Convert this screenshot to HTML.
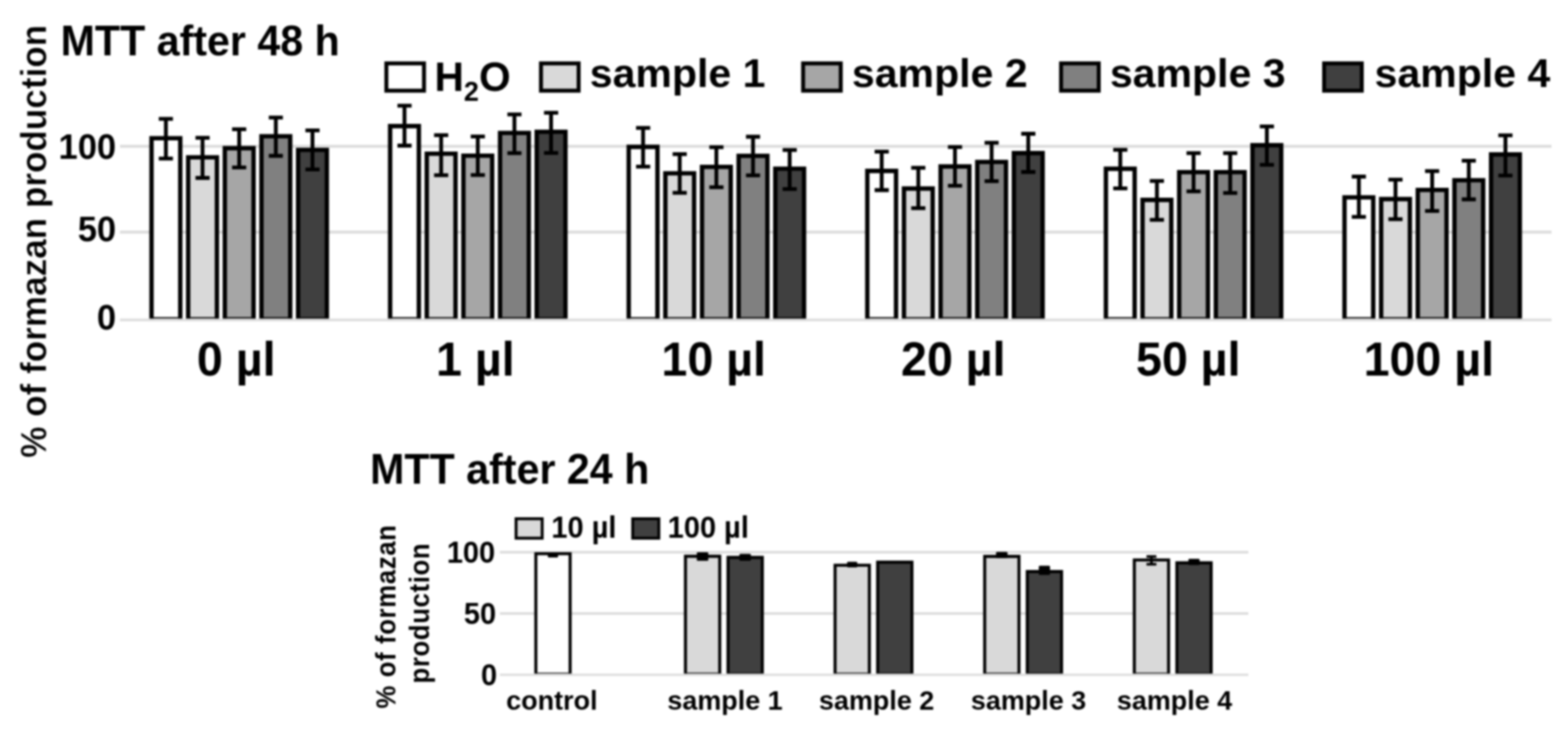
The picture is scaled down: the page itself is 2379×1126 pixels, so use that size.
<!DOCTYPE html>
<html lang="en"><head><meta charset="utf-8"><title>MTT assay - formazan production</title>
<style>html,body{margin:0;padding:0;background:#fff;}body{width:2379px;height:1126px;overflow:hidden;}svg{display:block;}text{font-family:"Liberation Sans", sans-serif;font-weight:bold;fill:#000;}</style>
</head><body>
<svg width="2379" height="1126" viewBox="0 0 2379 1126">
<defs><filter id="soft" color-interpolation-filters="sRGB" x="0" y="0" width="2379" height="1126" filterUnits="userSpaceOnUse"><feGaussianBlur stdDeviation="1.4"/></filter></defs>
<rect width="2379" height="1126" fill="#fff"/>
<g filter="url(#soft)">
<rect width="2379" height="1126" fill="#fff"/>
<line x1="182" y1="222" x2="2354" y2="222" stroke="#dcdcdc" stroke-width="4.5"/>
<line x1="182" y1="352.2" x2="2354" y2="352.2" stroke="#dcdcdc" stroke-width="4.5"/>
<rect x="229.9" y="209.8" width="43.6" height="275.6" fill="#ffffff"/>
<path d="M229.9 485.4V209.8H273.5V485.4" fill="none" stroke="#000" stroke-width="6.6"/>
<path d="M229.9 482.3H273.5" fill="none" stroke="#000" stroke-width="2.3"/>
<rect x="285.5" y="238.8" width="43.6" height="246.6" fill="#d9d9d9"/>
<path d="M285.5 485.4V238.8H329.1V485.4" fill="none" stroke="#000" stroke-width="6.6"/>
<path d="M285.5 482.3H329.1" fill="none" stroke="#000" stroke-width="2.3"/>
<rect x="341.1" y="224.9" width="43.6" height="260.5" fill="#a6a6a6"/>
<path d="M341.1 485.4V224.9H384.7V485.4" fill="none" stroke="#000" stroke-width="6.6"/>
<path d="M341.1 482.3H384.7" fill="none" stroke="#000" stroke-width="2.3"/>
<rect x="396.7" y="206.7" width="43.6" height="278.7" fill="#808080"/>
<path d="M396.7 485.4V206.7H440.3V485.4" fill="none" stroke="#000" stroke-width="6.6"/>
<path d="M396.7 482.3H440.3" fill="none" stroke="#000" stroke-width="2.3"/>
<rect x="452.3" y="227.5" width="43.6" height="257.9" fill="#404040"/>
<path d="M452.3 485.4V227.5H495.9V485.4" fill="none" stroke="#000" stroke-width="6.6"/>
<path d="M452.3 482.3H495.9" fill="none" stroke="#000" stroke-width="2.3"/>
<rect x="591.9" y="191.4" width="43.6" height="294.0" fill="#ffffff"/>
<path d="M591.9 485.4V191.4H635.5V485.4" fill="none" stroke="#000" stroke-width="6.6"/>
<path d="M591.9 482.3H635.5" fill="none" stroke="#000" stroke-width="2.3"/>
<rect x="647.5" y="233.3" width="43.6" height="252.1" fill="#d9d9d9"/>
<path d="M647.5 485.4V233.3H691.1V485.4" fill="none" stroke="#000" stroke-width="6.6"/>
<path d="M647.5 482.3H691.1" fill="none" stroke="#000" stroke-width="2.3"/>
<rect x="703.1" y="236.3" width="43.6" height="249.1" fill="#a6a6a6"/>
<path d="M703.1 485.4V236.3H746.7V485.4" fill="none" stroke="#000" stroke-width="6.6"/>
<path d="M703.1 482.3H746.7" fill="none" stroke="#000" stroke-width="2.3"/>
<rect x="758.7" y="201.7" width="43.6" height="283.7" fill="#808080"/>
<path d="M758.7 485.4V201.7H802.3V485.4" fill="none" stroke="#000" stroke-width="6.6"/>
<path d="M758.7 482.3H802.3" fill="none" stroke="#000" stroke-width="2.3"/>
<rect x="814.3" y="200.0" width="43.6" height="285.4" fill="#404040"/>
<path d="M814.3 485.4V200.0H857.9V485.4" fill="none" stroke="#000" stroke-width="6.6"/>
<path d="M814.3 482.3H857.9" fill="none" stroke="#000" stroke-width="2.3"/>
<rect x="953.9" y="222.9" width="43.6" height="262.5" fill="#ffffff"/>
<path d="M953.9 485.4V222.9H997.5V485.4" fill="none" stroke="#000" stroke-width="6.6"/>
<path d="M953.9 482.3H997.5" fill="none" stroke="#000" stroke-width="2.3"/>
<rect x="1009.5" y="263.0" width="43.6" height="222.4" fill="#d9d9d9"/>
<path d="M1009.5 485.4V263.0H1053.1V485.4" fill="none" stroke="#000" stroke-width="6.6"/>
<path d="M1009.5 482.3H1053.1" fill="none" stroke="#000" stroke-width="2.3"/>
<rect x="1065.1" y="253.2" width="43.6" height="232.2" fill="#a6a6a6"/>
<path d="M1065.1 485.4V253.2H1108.7V485.4" fill="none" stroke="#000" stroke-width="6.6"/>
<path d="M1065.1 482.3H1108.7" fill="none" stroke="#000" stroke-width="2.3"/>
<rect x="1120.7" y="236.5" width="43.6" height="248.9" fill="#808080"/>
<path d="M1120.7 485.4V236.5H1164.3V485.4" fill="none" stroke="#000" stroke-width="6.6"/>
<path d="M1120.7 482.3H1164.3" fill="none" stroke="#000" stroke-width="2.3"/>
<rect x="1176.3" y="256.0" width="43.6" height="229.4" fill="#404040"/>
<path d="M1176.3 485.4V256.0H1219.9V485.4" fill="none" stroke="#000" stroke-width="6.6"/>
<path d="M1176.3 482.3H1219.9" fill="none" stroke="#000" stroke-width="2.3"/>
<rect x="1315.9" y="259.4" width="43.6" height="226.0" fill="#ffffff"/>
<path d="M1315.9 485.4V259.4H1359.5V485.4" fill="none" stroke="#000" stroke-width="6.6"/>
<path d="M1315.9 482.3H1359.5" fill="none" stroke="#000" stroke-width="2.3"/>
<rect x="1371.5" y="286.1" width="43.6" height="199.3" fill="#d9d9d9"/>
<path d="M1371.5 485.4V286.1H1415.1V485.4" fill="none" stroke="#000" stroke-width="6.6"/>
<path d="M1371.5 482.3H1415.1" fill="none" stroke="#000" stroke-width="2.3"/>
<rect x="1427.1" y="252.6" width="43.6" height="232.8" fill="#a6a6a6"/>
<path d="M1427.1 485.4V252.6H1470.7V485.4" fill="none" stroke="#000" stroke-width="6.6"/>
<path d="M1427.1 482.3H1470.7" fill="none" stroke="#000" stroke-width="2.3"/>
<rect x="1482.7" y="245.8" width="43.6" height="239.6" fill="#808080"/>
<path d="M1482.7 485.4V245.8H1526.3V485.4" fill="none" stroke="#000" stroke-width="6.6"/>
<path d="M1482.7 482.3H1526.3" fill="none" stroke="#000" stroke-width="2.3"/>
<rect x="1538.3" y="232.4" width="43.6" height="253.0" fill="#404040"/>
<path d="M1538.3 485.4V232.4H1581.9V485.4" fill="none" stroke="#000" stroke-width="6.6"/>
<path d="M1538.3 482.3H1581.9" fill="none" stroke="#000" stroke-width="2.3"/>
<rect x="1677.9" y="256.1" width="43.6" height="229.3" fill="#ffffff"/>
<path d="M1677.9 485.4V256.1H1721.5V485.4" fill="none" stroke="#000" stroke-width="6.6"/>
<path d="M1677.9 482.3H1721.5" fill="none" stroke="#000" stroke-width="2.3"/>
<rect x="1733.5" y="303.4" width="43.6" height="182.0" fill="#d9d9d9"/>
<path d="M1733.5 485.4V303.4H1777.1V485.4" fill="none" stroke="#000" stroke-width="6.6"/>
<path d="M1733.5 482.3H1777.1" fill="none" stroke="#000" stroke-width="2.3"/>
<rect x="1789.1" y="261.2" width="43.6" height="224.2" fill="#a6a6a6"/>
<path d="M1789.1 485.4V261.2H1832.7V485.4" fill="none" stroke="#000" stroke-width="6.6"/>
<path d="M1789.1 482.3H1832.7" fill="none" stroke="#000" stroke-width="2.3"/>
<rect x="1844.7" y="261.2" width="43.6" height="224.2" fill="#808080"/>
<path d="M1844.7 485.4V261.2H1888.3V485.4" fill="none" stroke="#000" stroke-width="6.6"/>
<path d="M1844.7 482.3H1888.3" fill="none" stroke="#000" stroke-width="2.3"/>
<rect x="1900.3" y="220.4" width="43.6" height="265.0" fill="#404040"/>
<path d="M1900.3 485.4V220.4H1943.9V485.4" fill="none" stroke="#000" stroke-width="6.6"/>
<path d="M1900.3 482.3H1943.9" fill="none" stroke="#000" stroke-width="2.3"/>
<rect x="2039.9" y="299.5" width="43.6" height="185.9" fill="#ffffff"/>
<path d="M2039.9 485.4V299.5H2083.5V485.4" fill="none" stroke="#000" stroke-width="6.6"/>
<path d="M2039.9 482.3H2083.5" fill="none" stroke="#000" stroke-width="2.3"/>
<rect x="2095.5" y="302.1" width="43.6" height="183.3" fill="#d9d9d9"/>
<path d="M2095.5 485.4V302.1H2139.1V485.4" fill="none" stroke="#000" stroke-width="6.6"/>
<path d="M2095.5 482.3H2139.1" fill="none" stroke="#000" stroke-width="2.3"/>
<rect x="2151.1" y="288.2" width="43.6" height="197.2" fill="#a6a6a6"/>
<path d="M2151.1 485.4V288.2H2194.7V485.4" fill="none" stroke="#000" stroke-width="6.6"/>
<path d="M2151.1 482.3H2194.7" fill="none" stroke="#000" stroke-width="2.3"/>
<rect x="2206.7" y="273.5" width="43.6" height="211.9" fill="#808080"/>
<path d="M2206.7 485.4V273.5H2250.3V485.4" fill="none" stroke="#000" stroke-width="6.6"/>
<path d="M2206.7 482.3H2250.3" fill="none" stroke="#000" stroke-width="2.3"/>
<rect x="2262.3" y="234.4" width="43.6" height="251.0" fill="#404040"/>
<path d="M2262.3 485.4V234.4H2305.9V485.4" fill="none" stroke="#000" stroke-width="6.6"/>
<path d="M2262.3 482.3H2305.9" fill="none" stroke="#000" stroke-width="2.3"/>
<line x1="182" y1="485.4" x2="2354" y2="485.4" stroke="#dcdcdc" stroke-width="4"/>
<path d="M251.7 180.4V240.7M240.9 180.4H262.4M240.9 240.7H262.4" fill="none" stroke="#000" stroke-width="5.8"/>
<path d="M307.3 209.2V270.0M296.6 209.2H318.1M296.6 270.0H318.1" fill="none" stroke="#000" stroke-width="5.8"/>
<path d="M362.9 196.2V254.2M352.1 196.2H373.6M352.1 254.2H373.6" fill="none" stroke="#000" stroke-width="5.8"/>
<path d="M418.5 178.3V236.5M407.8 178.3H429.2M407.8 236.5H429.2" fill="none" stroke="#000" stroke-width="5.8"/>
<path d="M474.1 197.9V257.1M463.4 197.9H484.9M463.4 257.1H484.9" fill="none" stroke="#000" stroke-width="5.8"/>
<path d="M613.7 160.4V221.0M603.0 160.4H624.5M603.0 221.0H624.5" fill="none" stroke="#000" stroke-width="5.8"/>
<path d="M669.3 205.2V265.8M658.6 205.2H680.1M658.6 265.8H680.1" fill="none" stroke="#000" stroke-width="5.8"/>
<path d="M724.9 207.1V265.7M714.2 207.1H735.7M714.2 265.7H735.7" fill="none" stroke="#000" stroke-width="5.8"/>
<path d="M780.5 173.7V232.3M769.8 173.7H791.2M769.8 232.3H791.2" fill="none" stroke="#000" stroke-width="5.8"/>
<path d="M836.1 171.1V232.1M825.4 171.1H846.9M825.4 232.1H846.9" fill="none" stroke="#000" stroke-width="5.8"/>
<path d="M975.7 194.2V252.9M965.0 194.2H986.5M965.0 252.9H986.5" fill="none" stroke="#000" stroke-width="5.8"/>
<path d="M1031.3 233.9V292.6M1020.5 233.9H1042.0M1020.5 292.6H1042.0" fill="none" stroke="#000" stroke-width="5.8"/>
<path d="M1086.9 223.3V284.1M1076.2 223.3H1097.7M1076.2 284.1H1097.7" fill="none" stroke="#000" stroke-width="5.8"/>
<path d="M1142.5 207.5V266.1M1131.8 207.5H1153.2M1131.8 266.1H1153.2" fill="none" stroke="#000" stroke-width="5.8"/>
<path d="M1198.1 227.7V286.9M1187.4 227.7H1208.9M1187.4 286.9H1208.9" fill="none" stroke="#000" stroke-width="5.8"/>
<path d="M1337.7 230.1V288.5M1327.0 230.1H1348.5M1327.0 288.5H1348.5" fill="none" stroke="#000" stroke-width="5.8"/>
<path d="M1393.3 254.6V315.8M1382.5 254.6H1404.0M1382.5 315.8H1404.0" fill="none" stroke="#000" stroke-width="5.8"/>
<path d="M1448.9 223.2V281.8M1438.2 223.2H1459.7M1438.2 281.8H1459.7" fill="none" stroke="#000" stroke-width="5.8"/>
<path d="M1504.5 216.6V274.8M1493.8 216.6H1515.2M1493.8 274.8H1515.2" fill="none" stroke="#000" stroke-width="5.8"/>
<path d="M1560.1 203.0V261.0M1549.4 203.0H1570.9M1549.4 261.0H1570.9" fill="none" stroke="#000" stroke-width="5.8"/>
<path d="M1699.7 227.4V285.8M1689.0 227.4H1710.5M1689.0 285.8H1710.5" fill="none" stroke="#000" stroke-width="5.8"/>
<path d="M1755.3 274.7V333.7M1744.5 274.7H1766.0M1744.5 333.7H1766.0" fill="none" stroke="#000" stroke-width="5.8"/>
<path d="M1810.9 232.3V290.3M1800.2 232.3H1821.7M1800.2 290.3H1821.7" fill="none" stroke="#000" stroke-width="5.8"/>
<path d="M1866.5 232.3V292.9M1855.8 232.3H1877.2M1855.8 292.9H1877.2" fill="none" stroke="#000" stroke-width="5.8"/>
<path d="M1922.1 191.8V250.2M1911.4 191.8H1932.9M1911.4 250.2H1932.9" fill="none" stroke="#000" stroke-width="5.8"/>
<path d="M2061.7 268.0V329.2M2050.9 268.0H2072.4M2050.9 329.2H2072.4" fill="none" stroke="#000" stroke-width="5.8"/>
<path d="M2117.3 272.7V332.7M2106.5 272.7H2128.0M2106.5 332.7H2128.0" fill="none" stroke="#000" stroke-width="5.8"/>
<path d="M2172.9 259.6V320.2M2162.1 259.6H2183.6M2162.1 320.2H2183.6" fill="none" stroke="#000" stroke-width="5.8"/>
<path d="M2228.5 243.9V302.5M2217.8 243.9H2239.2M2217.8 302.5H2239.2" fill="none" stroke="#000" stroke-width="5.8"/>
<path d="M2284.1 205.3V266.3M2273.3 205.3H2294.8M2273.3 266.3H2294.8" fill="none" stroke="#000" stroke-width="5.8"/>
<text transform="translate(91.90 83.80) scale(1 1.035)" font-size="62.5">MTT after 48 h</text>
<text transform="translate(176.20 241.30) scale(1 1.04)" font-size="52.4" text-anchor="end">100</text>
<text transform="translate(176.20 366.00) scale(1 1.04)" font-size="52.4" text-anchor="end">50</text>
<text transform="translate(176.20 500.20) scale(1 1.04)" font-size="52.4" text-anchor="end">0</text>
<clipPath id="ycl"><rect x="0" y="0" width="79.4" height="1126"/></clipPath>
<g clip-path="url(#ycl)">
<text transform="translate(70.30 366.20) rotate(-90) scale(1 1.03)" font-size="53.3" text-anchor="middle" stroke="#fff" stroke-width="0.6">% of formazan production</text>
</g>
<text transform="translate(358.40 570.30) scale(1 1.02)" font-size="70.7" text-anchor="middle">0 µl</text>
<text transform="translate(721.15 570.30) scale(1 1.02)" font-size="70.7" text-anchor="middle">1 µl</text>
<text transform="translate(1082.90 570.30) scale(1 1.02)" font-size="70.7" text-anchor="middle">10 µl</text>
<text transform="translate(1446.40 570.30) scale(1 1.02)" font-size="70.7" text-anchor="middle">20 µl</text>
<text transform="translate(1802.90 570.30) scale(1 1.02)" font-size="70.7" text-anchor="middle">50 µl</text>
<text transform="translate(2167.90 570.30) scale(1 1.02)" font-size="70.7" text-anchor="middle">100 µl</text>
<rect x="586.2" y="96.2" width="57.1" height="41.4" fill="#ffffff" stroke="#000" stroke-width="6"/>
<text transform="translate(659.20 138.10) scale(1 1.03)" font-size="61.8">H<tspan font-size="41" dy="14">2</tspan><tspan dy="-14">O</tspan></text>
<rect x="820.8" y="96.2" width="57.1" height="41.4" fill="#d9d9d9" stroke="#000" stroke-width="6"/>
<text transform="translate(894.80 132.40) scale(1 0.98)" font-size="62.3">sample 1</text>
<rect x="1218.5" y="96.2" width="57.1" height="41.4" fill="#a6a6a6" stroke="#000" stroke-width="6"/>
<text transform="translate(1292.50 132.40) scale(1 0.98)" font-size="62.3">sample 2</text>
<rect x="1609.9" y="96.2" width="57.1" height="41.4" fill="#808080" stroke="#000" stroke-width="6"/>
<text transform="translate(1683.90 132.40) scale(1 0.98)" font-size="62.3">sample 3</text>
<rect x="2009.0" y="96.2" width="57.1" height="41.4" fill="#404040" stroke="#000" stroke-width="6"/>
<text transform="translate(2085.50 132.40) scale(1 0.98)" font-size="62.3">sample 4</text>
<line x1="758.5" y1="838.1" x2="1894" y2="838.1" stroke="#dcdcdc" stroke-width="4"/>
<line x1="758.5" y1="930.9" x2="1894" y2="930.9" stroke="#dcdcdc" stroke-width="4"/>
<rect x="813.0" y="840.3" width="52.0" height="183.6" fill="#ffffff"/>
<path d="M813.0 1023.9V840.3H865.0V1023.9" fill="none" stroke="#000" stroke-width="4.6"/>
<path d="M813.0 1021.4H865.0" fill="none" stroke="#000" stroke-width="1.5"/>
<rect x="1040.0" y="844.1" width="52.0" height="179.8" fill="#d9d9d9"/>
<path d="M1040.0 1023.9V844.1H1092.0V1023.9" fill="none" stroke="#000" stroke-width="4.6"/>
<path d="M1040.0 1021.4H1092.0" fill="none" stroke="#000" stroke-width="1.5"/>
<rect x="1104.6" y="845.9" width="52.0" height="178.0" fill="#404040"/>
<path d="M1104.6 1023.9V845.9H1156.6V1023.9" fill="none" stroke="#000" stroke-width="4.6"/>
<path d="M1104.6 1021.4H1156.6" fill="none" stroke="#000" stroke-width="1.5"/>
<rect x="1267.0" y="857.7" width="52.0" height="166.2" fill="#d9d9d9"/>
<path d="M1267.0 1023.9V857.7H1319.0V1023.9" fill="none" stroke="#000" stroke-width="4.6"/>
<path d="M1267.0 1021.4H1319.0" fill="none" stroke="#000" stroke-width="1.5"/>
<rect x="1331.6" y="853.1" width="52.0" height="170.8" fill="#404040"/>
<path d="M1331.6 1023.9V853.1H1383.6V1023.9" fill="none" stroke="#000" stroke-width="4.6"/>
<path d="M1331.6 1021.4H1383.6" fill="none" stroke="#000" stroke-width="1.5"/>
<rect x="1494.0" y="844.4" width="52.0" height="179.5" fill="#d9d9d9"/>
<path d="M1494.0 1023.9V844.4H1546.0V1023.9" fill="none" stroke="#000" stroke-width="4.6"/>
<path d="M1494.0 1021.4H1546.0" fill="none" stroke="#000" stroke-width="1.5"/>
<rect x="1558.6" y="867.4" width="52.0" height="156.5" fill="#404040"/>
<path d="M1558.6 1023.9V867.4H1610.6V1023.9" fill="none" stroke="#000" stroke-width="4.6"/>
<path d="M1558.6 1021.4H1610.6" fill="none" stroke="#000" stroke-width="1.5"/>
<rect x="1721.0" y="849.7" width="52.0" height="174.2" fill="#d9d9d9"/>
<path d="M1721.0 1023.9V849.7H1773.0V1023.9" fill="none" stroke="#000" stroke-width="4.6"/>
<path d="M1721.0 1021.4H1773.0" fill="none" stroke="#000" stroke-width="1.5"/>
<rect x="1785.6" y="854.1" width="52.0" height="169.8" fill="#404040"/>
<path d="M1785.6 1023.9V854.1H1837.6V1023.9" fill="none" stroke="#000" stroke-width="4.6"/>
<path d="M1785.6 1021.4H1837.6" fill="none" stroke="#000" stroke-width="1.5"/>
<line x1="758.5" y1="1023.9" x2="1894" y2="1023.9" stroke="#dcdcdc" stroke-width="3.5"/>
<rect x="831.2" y="840.7" width="15.5" height="5.2" rx="1.5" fill="#000"/>
<rect x="1057.2" y="838.1" width="17.5" height="13.0" rx="1.5" fill="#000"/>
<rect x="1121.8" y="840.6" width="17.5" height="10.5" rx="1.5" fill="#000"/>
<rect x="1285.2" y="852.5" width="15.5" height="8.6" rx="1.5" fill="#000"/>
<rect x="1511.2" y="837.5" width="17.5" height="9.5" rx="1.5" fill="#000"/>
<rect x="1576.1" y="858.6" width="17.0" height="14.0" rx="1.5" fill="#000"/>
<path d="M1747.0 844.4V856.3M1739.5 844.4H1754.5M1739.5 856.3H1754.5" fill="none" stroke="#000" stroke-width="4"/>
<rect x="1803.1" y="848.0" width="17.0" height="9.5" rx="1.5" fill="#000"/>
<text transform="translate(561.50 733.70) scale(1 1.035)" font-size="62.5">MTT after 24 h</text>
<text transform="translate(751.30 854.30) scale(1 1.04)" font-size="44" text-anchor="end">100</text>
<text transform="translate(752.80 947.10) scale(1 1.04)" font-size="44" text-anchor="end">50</text>
<text transform="translate(754.30 1040.10) scale(1 1.04)" font-size="44" text-anchor="end">0</text>
<text transform="translate(599.80 935.60) rotate(-90) scale(1 1.07)" font-size="39" text-anchor="middle" letter-spacing="1">% of formazan</text>
<text transform="translate(650.50 930.40) rotate(-90) scale(1 1.07)" font-size="39" text-anchor="middle" letter-spacing="1">production</text>
<text transform="translate(837.30 1077.00) scale(1 0.98)" font-size="40.9" text-anchor="middle">control</text>
<text transform="translate(1100.00 1077.00) scale(1 0.98)" font-size="40.9" text-anchor="middle">sample 1</text>
<text transform="translate(1330.00 1077.00) scale(1 0.98)" font-size="40.9" text-anchor="middle">sample 2</text>
<text transform="translate(1560.50 1077.00) scale(1 0.98)" font-size="40.9" text-anchor="middle">sample 3</text>
<text transform="translate(1782.00 1077.00) scale(1 0.98)" font-size="40.9" text-anchor="middle">sample 4</text>
<rect x="783" y="787.2" width="39.6" height="29.5" fill="#d9d9d9" stroke="#000" stroke-width="4.4"/>
<text transform="translate(836.50 816.20) scale(1 1.03)" font-size="44">10 µl</text>
<rect x="960" y="787.2" width="39.6" height="29.5" fill="#404040" stroke="#000" stroke-width="4.4"/>
<text transform="translate(1013.00 816.20) scale(1 1.03)" font-size="44">100 µl</text>
</g>
</svg>
</body></html>
